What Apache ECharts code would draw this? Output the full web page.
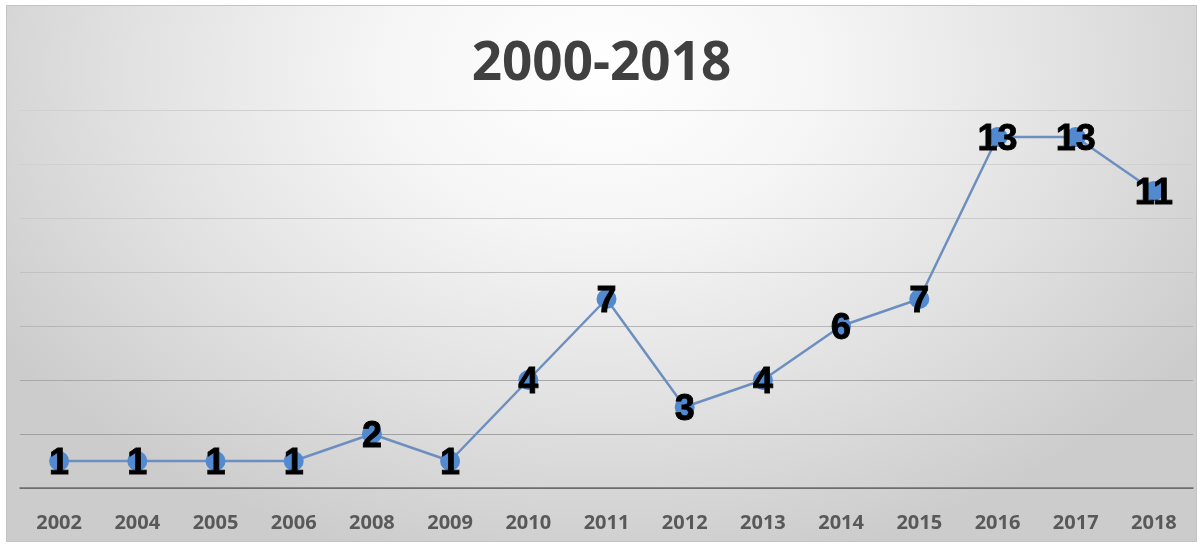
<!DOCTYPE html>
<html>
<head>
<meta charset="utf-8">
<script src="https://cdn.jsdelivr.net/npm/echarts@6/dist/echarts.min.js"></script>
<style>
  html, body { margin: 0; padding: 0; background: #ffffff; }
  #wrap { position: relative; width: 1203px; height: 545px; }
  #panel {
    position: absolute; left: 6px; top: 5px; width: 1191px; height: 537px;
    box-sizing: border-box; border: 1px solid #c4c4c4;
    background: radial-gradient(ellipse 60% 95% at 50% 12%, #ffffff 0%, #f6f6f6 30%, #e2e2e2 65%, #cccccc 100%);
  }
  #chart { position: absolute; left: 0; top: 0; width: 1203px; height: 545px; }
</style>
</head>
<body>
<div id="wrap">
  <div id="panel"></div>
  <div id="chart"></div>
</div>
<script>
const titleText = '2000-2018';
const years = ['2002','2004','2005','2006','2008','2009','2010','2011','2012','2013','2014','2015','2016','2017','2018'];
const counts = [1, 1, 1, 1, 2, 1, 4, 7, 3, 4, 6, 7, 13, 13, 11];
const yMin = 0;
const yMax = 14;
const yStep = 2;

const chart = echarts.init(document.getElementById('chart'), null, { renderer: 'canvas' });
chart.setOption({
  animation: false,
  backgroundColor: 'transparent',
  title: {
    text: titleText,
    left: 'center',
    top: 33,
    textStyle: { fontFamily: 'Open Sans', fontWeight: 'bold', fontSize: 53, color: '#404040' }
  },
  grid: { left: 20, right: 10, top: 110, bottom: 57, containLabel: false },
  xAxis: {
    type: 'category',
    data: years,
    boundaryGap: true,
    axisLine: { show: true, lineStyle: { color: '#6e6e6e', width: 1.5 } },
    axisTick: { show: false },
    axisLabel: { margin: 25, fontFamily: 'Open Sans', fontWeight: 'bold', fontSize: 20, color: '#595959' }
  },
  yAxis: {
    type: 'value',
    min: yMin,
    max: yMax,
    interval: yStep,
    axisLine: { show: false },
    axisTick: { show: false },
    axisLabel: { show: false },
    splitLine: {
      show: true,
      lineStyle: {
        color: ['#6e6e6e', '#a0a0a0', '#a8a8a8', '#b6b6b6', '#c2c2c2', '#cacaca', '#d0d0d0', '#d0d0d0'],
        width: 1.2
      }
    }
  },
  series: [{
    type: 'line',
    data: counts,
    symbol: 'circle',
    symbolSize: 20,
    itemStyle: { color: '#5289cf' },
    lineStyle: { color: '#6d8fc0', width: 2.5 },
    label: {
      show: true,
      position: 'inside',
      offset: [0, 3],
      fontFamily: 'Liberation Sans',
      fontWeight: 'bold',
      fontSize: 36,
      color: '#000000',
      textBorderColor: '#000000',
      textBorderWidth: 0.8
    }
  }]
});
</script>
</body>
</html>
